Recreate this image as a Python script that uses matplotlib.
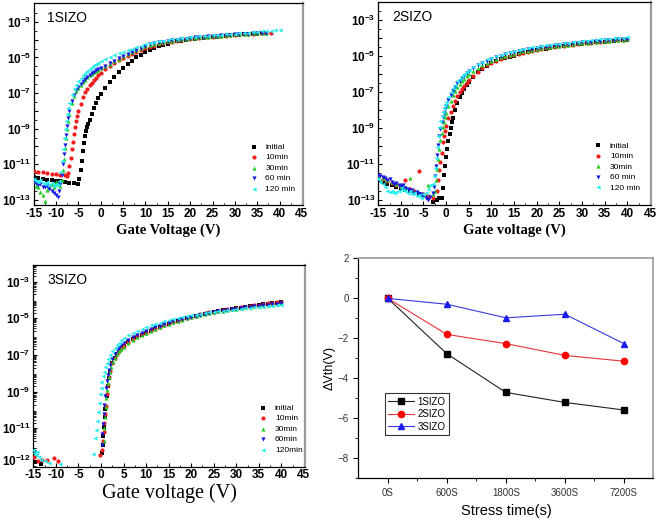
import numpy as np
import matplotlib
matplotlib.use('Agg')
import matplotlib.pyplot as plt
from matplotlib.ticker import FixedLocator, MultipleLocator, FixedFormatter, NullFormatter, LogLocator

plt.rcParams['font.family'] = ['Liberation Sans', 'DejaVu Sans']
plt.rcParams['mathtext.fontset'] = 'custom'
plt.rcParams['mathtext.rm'] = 'Liberation Sans'
plt.rcParams['mathtext.bf'] = 'Liberation Sans:bold'

# ---------------- shared ----------------
VG_ON = [1, 2, 3, 4, 5, 6, 7, 8, 9, 10, 11, 12, 13, 14, 15, 16, 17, 18, 19, 20,
         21, 22, 23, 24, 25, 26, 27, 28, 29, 30, 31, 32, 33, 34, 35, 36, 37, 38, 39, 40]
series_names = ['initial', '10min', '30min', '60 min', '120 min']
series_names_p3 = ['initial', '10min', '30min', '60min', '120min']
series_colors = ['#000000', '#ee1c1c', '#22cc22', '#1414e6', '#22eeee']
series_markers = ['s', 'o', '^', 'v', '<']

# ---------------- panel 1 : 1SIZO (log10 of drain current) ----------------
p1_initial_v = [-15, -14, -13, -12, -11, -10, -9, -8, -7, -6, -5,
                -4.75, -4.5, -4.25, -4, -3.75, -3.5, -3.25, -3, -2.75, -2.5, -2, -1.5, -1, -0.5, 0]
p1_initial_log = [-11.72, -11.78, -11.82, -11.86, -11.9, -11.93, -11.96, -12.0, -12.03, -12.05, -12.08,
                  -11.85, -11.3, -10.8, -10.25, -9.8, -9.42, -9.12, -8.9, -8.72, -8.53, -8.17, -7.85, -7.55, -7.28, -7.05]
p1_initial_on = [-6.7, -6.38, -6.1, -5.82, -5.58, -5.37, -5.18, -5.0, -4.84, -4.68, -4.56, -4.46, -4.37, -4.29,
                 -4.22, -4.16, -4.1, -4.06, -4.02, -3.98, -3.95, -3.92, -3.9, -3.87, -3.85, -3.83, -3.8, -3.78,
                 -3.76, -3.74, -3.72, -3.71, -3.69, -3.68, -3.66, -3.65, -3.63]

p1_10min_v = [-15, -14, -13, -12, -11, -10, -9, -8, -7.5,
              -7.25, -7, -6.75, -6.5, -6.25, -6, -5.75, -5.5, -5.25, -5, -4.5, -4, -3.5, -3, -2.5, -2, -1.5, -1, -0.5, 0]
p1_10min_log = [-11.38, -11.42, -11.45, -11.5, -11.53, -11.56, -11.6, -11.62, -11.65,
                -11.5, -11.1, -10.65, -10.15, -9.75, -9.28, -8.88, -8.55, -8.28, -8.02, -7.6, -7.22, -6.95, -6.75,
                -6.57, -6.42, -6.27, -6.13, -6.0, -5.88]
p1_10min_on = [-5.66, -5.46, -5.3, -5.16, -5.04, -4.92, -4.8, -4.68, -4.57, -4.47, -4.4, -4.33, -4.27, -4.21,
               -4.16, -4.11, -4.07, -4.03, -3.99, -3.96, -3.93, -3.9, -3.87, -3.85, -3.83, -3.81, -3.79, -3.77,
               -3.75, -3.73, -3.71, -3.69, -3.68, -3.66, -3.65, -3.63, -3.62, -3.6]

p1_30min_v = [-15, -14.5, -14, -13.5, -13, -12.5, -12, -11.5, -11, -10.5, -10, -9.5, -9,
              -8.75, -8.5, -8.25, -8, -7.75, -7.5, -7.25, -7, -6.5, -6, -5.5, -5, -4.5, -4, -3.5, -3, -2.5, -2,
              -1.5, -1, -0.5, 0]
p1_30min_log = [-11.95, -12.2, -12.3, -12.55, -12.75, -13.05, -12.45, -12.3, -12.1, -12.25, -12.0, -12.1, -12.2,
                -11.9, -11.3, -10.7, -10.1, -9.55, -9.0, -8.55, -8.15, -7.55, -7.15, -6.9, -6.7, -6.52, -6.37,
                -6.24, -6.12, -6.01, -5.92, -5.84, -5.76, -5.69, -5.62]
p1_30min_on = [-5.5, -5.35, -5.2, -5.06, -4.94, -4.82, -4.7, -4.58, -4.47, -4.37, -4.3, -4.24, -4.18, -4.13,
               -4.09, -4.05, -4.02, -3.99, -3.96, -3.93, -3.9, -3.87, -3.85, -3.83, -3.81, -3.79, -3.77, -3.75,
               -3.73, -3.71, -3.69, -3.68, -3.66, -3.65, -3.63, -3.62, -3.6]

p1_60min_v = [-15, -14.5, -14, -13.5, -13, -12.5, -12, -11.5, -11, -10.5, -10, -9.5, -9.25, -9,
              -8.75, -8.5, -8.25, -8, -7.75, -7.5, -7.25, -7, -6.5, -6, -5.5, -5, -4.5, -4, -3.5, -3, -2.5, -2,
              -1.5, -1, -0.5, 0]
p1_60min_log = [-11.95, -12.05, -12.15, -12.1, -12.25, -12.3, -12.2, -12.4, -12.5, -12.6, -12.75, -12.85, -12.5,
                -12.1, -11.6, -11.0, -10.45, -9.9, -9.35, -8.85, -8.4, -8.0, -7.45, -7.1, -6.85, -6.65, -6.48,
                -6.33, -6.2, -6.08, -5.97, -5.88, -5.8, -5.72, -5.65, -5.58]
p1_60min_on = [-5.46, -5.32, -5.18, -5.04, -4.92, -4.8, -4.68, -4.56, -4.45, -4.34, -4.27, -4.21, -4.16, -4.11,
               -4.07, -4.03, -4.0, -3.97, -3.94, -3.91, -3.88, -3.86, -3.84, -3.82, -3.8, -3.78, -3.76, -3.74,
               -3.72, -3.7, -3.69, -3.67, -3.66, -3.64, -3.63, -3.61, -3.6]

p1_120min_v = [-15, -14.5, -14, -13.5, -13, -12.5, -12, -11.5, -11, -10.5, -10, -9.5, -9.25,
               -9, -8.75, -8.5, -8.25, -8, -7.75, -7.5, -7.25, -7, -6.5, -6, -5.5, -5, -4.5, -4, -3.5, -3, -2.5,
               -2, -1.5, -1, -0.5, 0]
p1_120min_log = [-11.85, -11.95, -12.0, -11.9, -12.05, -12.1, -12.0, -12.15, -12.05, -12.2, -12.1, -12.15, -11.95,
                 -11.45, -10.8, -10.15, -9.55, -9.0, -8.55, -8.15, -7.82, -7.55, -7.1, -6.78, -6.53, -6.32, -6.15,
                 -6.0, -5.87, -5.75, -5.64, -5.54, -5.45, -5.37, -5.29, -5.22]
p1_120min_on = [-5.1, -4.98, -4.87, -4.77, -4.67, -4.58, -4.5, -4.42, -4.34, -4.25, -4.19, -4.14, -4.09, -4.05,
                -4.01, -3.98, -3.95, -3.92, -3.89, -3.86, -3.84, -3.82, -3.8, -3.78, -3.76, -3.74, -3.72, -3.7,
                -3.68, -3.66, -3.64, -3.62, -3.6, -3.58, -3.56, -3.54, -3.52, -3.5, -3.48, -3.47]

# ---------------- panel 2 : 2SIZO ----------------
p2_initial_v = [-15, -14, -13, -12, -11, -10, -9, -8, -7, -6, -5, -4, -3, -2, -1.5,
                -1, -0.75, -0.5, -0.25, 0, 0.25, 0.5, 0.75, 1, 1.25, 1.5, 2, 2.5, 3, 3.5, 4, 4.5, 5]
p2_initial_log = [-11.9, -12.0, -12.1, -12.2, -12.3, -12.35, -12.45, -12.5, -12.6, -12.7, -12.75, -12.85, -13.1,
                  -13.0, -12.9,
                  -12.9, -12.35, -11.6, -11.1, -10.6, -10.2, -9.75, -9.35, -9.0, -8.7, -8.45, -8.0, -7.6, -7.3,
                  -7.05, -6.82, -6.62, -6.45]
p2_initial_on = [-6.18, -5.92, -5.72, -5.55, -5.42, -5.3, -5.2, -5.12, -5.05, -4.98, -4.91, -4.85, -4.79, -4.73,
                 -4.68, -4.63, -4.59, -4.55, -4.51, -4.47, -4.44, -4.41, -4.38, -4.35, -4.32, -4.29, -4.27, -4.24,
                 -4.22, -4.2, -4.17, -4.15, -4.13, -4.11, -4.09]

p2_10min_v = [-15, -14, -13, -12, -11, -10, -9, -8, -7, -6, -5, -4, -3,
              -2, -1.75, -1.5, -1.25, -1, -0.75, -0.5, -0.25, 0, 0.5, 1, 1.5, 2, 2.5, 3, 3.5, 4, 4.5, 5]
p2_10min_log = [-11.75, -11.85, -11.95, -12.05, -12.15, -12.25, -11.9, -12.4, -12.5, -11.4, -12.7, -12.8, -12.9,
                -12.5, -11.9, -11.35, -10.9, -10.4, -9.8, -9.45, -9.15, -8.9, -8.45, -8.1, -7.78, -7.5, -7.25,
                -7.02, -6.83, -6.66, -6.5, -6.36]
p2_10min_on = [-6.1, -5.87, -5.67, -5.5, -5.37, -5.26, -5.16, -5.08, -5.01, -4.94, -4.88, -4.82, -4.76, -4.71,
               -4.66, -4.61, -4.57, -4.53, -4.49, -4.46, -4.43, -4.4, -4.37, -4.34, -4.31, -4.28, -4.26, -4.23,
               -4.21, -4.19, -4.16, -4.14, -4.12, -4.1, -4.08]

p2_30min_v = [-15, -14, -13, -12, -11, -10, -9, -8, -7, -6, -5, -4, -3,
              -2.5, -2.25, -2, -1.75, -1.5, -1.25, -1, -0.75, -0.5, -0.25, 0, 0.5, 1, 1.5, 2, 2.5, 3, 3.5, 4,
              4.5, 5]
p2_30min_log = [-11.65, -11.8, -11.9, -12.0, -12.1, -12.2, -12.3, -11.8, -12.55, -12.6, -12.75, -12.2, -12.7,
                -12.5, -11.9, -11.3, -10.75, -10.2, -9.7, -9.3, -8.95, -8.65, -8.4, -8.18, -7.8, -7.48, -7.2,
                -6.95, -6.75, -6.56, -6.4, -6.26, -6.13, -6.02]
p2_30min_on = [-5.82, -5.65, -5.5, -5.38, -5.27, -5.17, -5.08, -5.0, -4.93, -4.87, -4.81, -4.75, -4.7, -4.65,
               -4.61, -4.57, -4.53, -4.49, -4.46, -4.43, -4.4, -4.37, -4.34, -4.31, -4.29, -4.26, -4.24, -4.21,
               -4.19, -4.17, -4.15, -4.13, -4.11, -4.09, -4.07]

p2_60min_v = [-15, -14.5, -14, -13.5, -13, -12.5, -12, -11.5, -11, -10.5, -10, -9.5, -9, -8.5, -8, -7.5, -7,
              -6.5, -6, -5.5, -5, -4.5, -4, -3.5, -3,
              -2.75, -2.5, -2.25, -2, -1.75, -1.5, -1.25, -1, -0.75, -0.5, -0.25, 0, 0.5, 1, 1.5, 2, 2.5, 3,
              3.5, 4, 4.5, 5]
p2_60min_log = [-11.6, -11.7, -11.75, -11.8, -11.9, -11.85, -12.0, -12.1, -12.05, -12.2, -12.25, -12.2, -12.35,
                -12.4, -12.5, -12.45, -12.6, -12.55, -12.7, -12.65, -12.8, -12.9, -13.0, -12.85, -12.6,
                -12.3, -11.7, -11.1, -10.5, -9.95, -9.45, -9.05, -8.7, -8.42, -8.18, -7.97, -7.78, -7.45, -7.17,
                -6.93, -6.72, -6.53, -6.37, -6.22, -6.09, -5.97, -5.86]
p2_60min_on = [-5.68, -5.52, -5.39, -5.27, -5.17, -5.08, -5.0, -4.92, -4.86, -4.8, -4.74, -4.69, -4.64, -4.6,
               -4.56, -4.52, -4.48, -4.45, -4.42, -4.39, -4.36, -4.33, -4.3, -4.28, -4.25, -4.23, -4.21, -4.18,
               -4.16, -4.14, -4.12, -4.1, -4.08, -4.06, -4.04]

p2_120min_v = [-15, -14.5, -14, -13.5, -13, -12.5, -12, -11.5, -11, -10.5, -10, -9.5, -9, -8.5, -8, -7.5, -7,
               -6.5, -6, -5.5, -5, -4.5, -4, -3.5,
               -3, -2.75, -2.5, -2.25, -2, -1.75, -1.5, -1.25, -1, -0.75, -0.5, -0.25, 0, 0.5, 1, 1.5, 2, 2.5,
               3, 3.5, 4, 4.5, 5]
p2_120min_log = [-11.85, -12.0, -12.1, -12.3, -12.5, -12.55, -12.5, -12.6, -12.55, -12.5, -12.35, -12.45, -12.5,
                 -12.6, -12.5, -12.7, -12.6, -12.8, -12.75, -12.9, -12.7, -12.6, -12.4, -12.2,
                 -12.1, -11.7, -11.25, -10.7, -10.05, -9.45, -8.95, -8.6, -8.32, -8.1, -7.9, -7.72, -7.56, -7.27,
                 -7.02, -6.8, -6.6, -6.42, -6.27, -6.13, -6.0, -5.89, -5.78]
p2_120min_on = [-5.6, -5.45, -5.32, -5.2, -5.1, -5.01, -4.93, -4.86, -4.79, -4.73, -4.67, -4.62, -4.57, -4.53,
                -4.49, -4.45, -4.41, -4.38, -4.35, -4.32, -4.29, -4.26, -4.23, -4.2, -4.18, -4.15, -4.13, -4.1,
                -4.08, -4.06, -4.04, -4.02, -4.0, -3.98, -3.96]

# ---------------- panel 3 : 3SIZO ----------------
p3_initial_v = [-14.6, -13.2,
                0.25, 0.4, 0.55, 0.7, 0.85, 1.0, 1.25, 1.5, 1.75, 2, 2.5, 3, 3.5, 4, 4.5, 5]
p3_initial_log = [-12.85, -12.95,
                  -12.35, -11.9, -11.4, -10.9, -10.4, -9.95, -9.25, -8.7, -8.25, -7.92, -7.45, -7.15, -6.95,
                  -6.78, -6.64, -6.52]
p3_initial_on = [-6.3, -6.14, -6.0, -5.9, -5.8, -5.68, -5.58, -5.48, -5.39, -5.3, -5.22, -5.14, -5.06, -4.99,
                 -4.92, -4.86, -4.8, -4.74, -4.69, -4.64, -4.6, -4.57, -4.53, -4.49, -4.46, -4.42, -4.38, -4.35,
                 -4.31, -4.28, -4.24, -4.21, -4.18, -4.14, -4.11]

p3_10min_v = [-14.8, -14, -13, -12, -10.5, -9.5,
              -0.2, 0.3, 0.45, 0.6, 0.75, 0.9, 1.05, 1.3, 1.55, 1.8, 2.05, 2.5, 3, 3.5, 4, 4.5, 5]
p3_10min_log = [-12.55, -12.8, -12.7, -12.75, -12.6, -12.8,
                -12.45, -12.2, -11.7, -11.2, -10.7, -10.2, -9.8, -9.15, -8.62, -8.2, -7.88, -7.45, -7.15, -6.94,
                -6.77, -6.63, -6.51]
p3_10min_on = [-6.3, -6.13, -5.99, -5.88, -5.78, -5.66, -5.56, -5.46, -5.37, -5.28, -5.2, -5.12, -5.05, -4.98,
               -4.91, -4.85, -4.79, -4.73, -4.68, -4.63, -4.59, -4.55, -4.51, -4.48, -4.44, -4.4, -4.37, -4.33,
               -4.3, -4.26, -4.23, -4.19, -4.16, -4.12, -4.09]

p3_30min_v = [0.6, 0.75, 0.9, 1.05, 1.2, 1.4, 1.6, 1.8, 2.0, 2.3, 2.6, 3, 3.5, 4, 4.5, 5]
p3_30min_log = [-11.7, -11.0, -10.4, -9.85, -9.35, -8.9, -8.5, -8.2, -7.95, -7.65, -7.4, -7.17, -6.97, -6.8,
                -6.66, -6.54]
p3_30min_on = [-6.33, -6.16, -6.02, -5.9, -5.8, -5.69, -5.58, -5.48, -5.39, -5.3, -5.22, -5.14, -5.07, -5.0,
               -4.93, -4.87, -4.81, -4.76, -4.71, -4.66, -4.62, -4.58, -4.54, -4.51, -4.47, -4.44, -4.41, -4.38,
               -4.35, -4.32, -4.29, -4.26, -4.23, -4.2, -4.17]

p3_60min_v = [0.15, 0.3, 0.45, 0.6, 0.75, 0.9, 1.1, 1.3, 1.5, 1.75, 2, 2.5, 3, 3.5, 4, 4.5, 5]
p3_60min_log = [-11.9, -11.3, -10.75, -10.2, -9.7, -9.25, -8.8, -8.4, -8.1, -7.8, -7.55, -7.2, -6.95, -6.75,
                -6.6, -6.47, -6.36]
p3_60min_on = [-6.18, -6.03, -5.9, -5.79, -5.69, -5.59, -5.5, -5.41, -5.33, -5.25, -5.17, -5.1, -5.03, -4.97,
               -4.91, -4.85, -4.8, -4.75, -4.7, -4.66, -4.62, -4.58, -4.54, -4.51, -4.47, -4.44, -4.41, -4.38,
               -4.35, -4.32, -4.29, -4.26, -4.24, -4.21, -4.19]

p3_120min_v = [-15, -14.8, -14.5, -14.2, -13.8, -13.3, -12.5, -11.5, -9.0,
               -1.7, -1.3, -1.1, -0.9, -0.7, -0.5, -0.3, -0.1, 0.1, 0.35, 0.6, 0.9, 1.25, 1.6, 2, 2.5, 3, 3.5,
               4, 4.5, 5]
p3_120min_log = [-12.2, -12.35, -12.45, -12.3, -12.55, -12.7, -12.8, -12.9, -12.95,
                 -12.4, -11.55, -11.1, -10.6, -10.1, -9.6, -9.15, -8.78, -8.45, -8.15, -7.9, -7.65, -7.42, -7.2,
                 -7.0, -6.8, -6.6, -6.45, -6.32, -6.2, -6.1]
p3_120min_on = [-5.93, -5.79, -5.67, -5.57, -5.48, -5.39, -5.31, -5.23, -5.16, -5.1, -5.04, -4.98, -4.93, -4.88,
                -4.84, -4.8, -4.76, -4.72, -4.68, -4.65, -4.62, -4.59, -4.56, -4.53, -4.5, -4.48, -4.45, -4.43,
                -4.4, -4.38, -4.36, -4.34, -4.32, -4.3, -4.28]

# ---------------- panel 4 : threshold voltage shift ----------------
stress_labels = ['0S', '600S', '1800S', '3600S', '7200S']
dvth_1sizo = [0, -2.77, -4.7, -5.2, -5.58]
dvth_2sizo = [0, -1.8, -2.26, -2.85, -3.14]
dvth_3sizo = [0, -0.29, -0.97, -0.79, -2.26]

# ---------------- figure ----------------
fig = plt.figure(figsize=(6.6, 5.2), dpi=100)
ax1 = fig.add_axes([0.051, 0.606, 0.4085, 0.388])
ax2 = fig.add_axes([0.573, 0.606, 0.414, 0.391])
ax3 = fig.add_axes([0.0505, 0.1025, 0.412, 0.388])
ax4 = fig.add_axes([0.543, 0.080, 0.447, 0.423])


def full_curve(v, lg, on):
    after = [x for x in VG_ON if x > v[-1]][:len(on)]
    return np.array(list(v) + after, dtype=float), 10.0 ** np.array(list(lg) + list(on), dtype=float)


def draw_transfer(ax, curves, names, ylog_lim, title, xlabel, xlabel_kw, leg_anchor):
    for (v, lg, on), nm, col, mk in zip(curves, names, series_colors, series_markers):
        x, y = full_curve(v, lg, on)
        ax.scatter(x, y, s=9, marker=mk, c=col, linewidths=0, label=nm, zorder=3)
    ax.set_yscale('log')
    ax.set_xlim(-15, 45.3)
    ax.set_ylim(10 ** ylog_lim[0], 10 ** ylog_lim[1])
    ax.xaxis.set_major_locator(MultipleLocator(5))
    ax.xaxis.set_minor_locator(MultipleLocator(2.5))
    ax.tick_params(axis='both', which='both', direction='in', top=False, right=False)
    ax.tick_params(axis='both', which='major', length=3, width=0.8)
    ax.tick_params(axis='both', which='minor', length=1.8, width=0.6)
    ax.tick_params(axis='x', labelsize=8.5, pad=2)
    ax.tick_params(axis='y', labelsize=8.5, pad=2)
    ax.text(0.05, 0.925, title, transform=ax.transAxes, fontsize=10, va='center', ha='left')
    ax.set_xlabel(xlabel, **xlabel_kw)
    for s in ['left', 'bottom', 'top']:
        ax.spines[s].set_color('black')
        ax.spines[s].set_linewidth(0.9)
    ax.spines['right'].set_color('#9a9a9a')
    ax.spines['right'].set_linewidth(1.6)
    ax.legend(loc='lower left', bbox_to_anchor=leg_anchor, frameon=False, fontsize=6,
              handlelength=1.0, handletextpad=0.9, labelspacing=0.32, borderpad=0,
              borderaxespad=0, scatterpoints=1, markerscale=1.0)


def bold_x_labels(ax):
    ticks = [-15, -10, -5, 0, 5, 10, 15, 20, 25, 30, 35, 40, 45]
    ax.set_xticks(ticks)
    ax.set_xticklabels([str(t) for t in ticks], fontweight='bold', fontsize=8.5)


curves1 = [(p1_initial_v, p1_initial_log, p1_initial_on), (p1_10min_v, p1_10min_log, p1_10min_on),
           (p1_30min_v, p1_30min_log, p1_30min_on), (p1_60min_v, p1_60min_log, p1_60min_on),
           (p1_120min_v, p1_120min_log, p1_120min_on)]
curves2 = [(p2_initial_v, p2_initial_log, p2_initial_on), (p2_10min_v, p2_10min_log, p2_10min_on),
           (p2_30min_v, p2_30min_log, p2_30min_on), (p2_60min_v, p2_60min_log, p2_60min_on),
           (p2_120min_v, p2_120min_log, p2_120min_on)]
curves3 = [(p3_initial_v, p3_initial_log, p3_initial_on), (p3_10min_v, p3_10min_log, p3_10min_on),
           (p3_30min_v, p3_30min_log, p3_30min_on), (p3_60min_v, p3_60min_log, p3_60min_on),
           (p3_120min_v, p3_120min_log, p3_120min_on)]

serif_bold = dict(fontfamily='Liberation Serif', fontweight='bold', fontsize=10.5, labelpad=3)
draw_transfer(ax1, curves1, series_names, (-13.28, -1.95), '1SIZO', 'Gate Voltage (V)', serif_bold, (0.80, 0.06))
draw_transfer(ax2, curves2, series_names, (-13.28, -1.98), '2SIZO', 'Gate voltage (V)', serif_bold, (0.79, 0.065))
draw_transfer(ax3, curves3, series_names_p3, (-13.09, -2.09), '3SIZO', 'Gate voltage (V)',
              dict(fontfamily='Liberation Serif', fontsize=14.5, labelpad=1), (0.83, 0.063))

for ax in (ax1, ax2, ax3):
    bold_x_labels(ax)
    ax.set_xlim(-15, 45.3)

# y ticks for panels 1 and 2: every decade, labels on odd exponents
dec = [3, 4, 5, 6, 7, 8, 9, 10, 11, 12, 13]
for ax in (ax1, ax2):
    ax.yaxis.set_major_locator(FixedLocator([10.0 ** (-k) for k in dec]))
    ax.yaxis.set_major_formatter(FixedFormatter(
        [r'$\mathbf{10^{-%d}}$' % k if k % 2 else '' for k in dec]))
    ax.yaxis.set_minor_locator(LogLocator(base=10, subs=(3.16,), numticks=30))
    ax.yaxis.set_minor_formatter(NullFormatter())

# panel 3 y ticks
p3_tick_exp = [-3, -5, -7, -9, -11, -12.7]
p3_tick_txt = ['-3', '-5', '-7', '-9', '-11', '-12']
ax3.yaxis.set_major_locator(FixedLocator([10.0 ** e for e in p3_tick_exp]))
ax3.yaxis.set_major_formatter(FixedFormatter([r'$\mathbf{10^{%s}}$' % t for t in p3_tick_txt]))
ax3.yaxis.set_minor_locator(LogLocator(base=10, subs=(2, 3, 4, 5, 6, 7, 8, 9), numticks=30))
ax3.yaxis.set_minor_formatter(NullFormatter())

# ---------------- panel 4 ----------------
xpos = np.arange(len(stress_labels))
ax4.plot(xpos, dvth_1sizo, color='#222222', lw=0.8, marker='s', ms=4.5, mfc='black', mec='black', label='1SIZO')
ax4.plot(xpos, dvth_2sizo, color='#e8343c', lw=0.8, marker='o', ms=4.5, mfc='red', mec='red', label='2SIZO')
ax4.plot(xpos, dvth_3sizo, color='#3a3adf', lw=0.8, marker='^', ms=5, mfc='#1a1aee', mec='#1a1aee', label='3SIZO')
ax4.set_xlim(-0.5, 4.5)
ax4.set_ylim(-9, 2)
ax4.set_xticks(xpos)
ax4.set_xticklabels(stress_labels)
ax4.xaxis.set_minor_locator(FixedLocator([0.5, 1.5, 2.5, 3.5]))
ax4.yaxis.set_major_locator(MultipleLocator(2))
ax4.yaxis.set_minor_locator(MultipleLocator(1))
ax4.tick_params(axis='both', which='both', direction='out', top=False, right=False, labelsize=7,
                labelcolor='#333333')
ax4.tick_params(which='major', length=3.5, width=0.8)
ax4.tick_params(which='minor', length=2, width=0.6)
ax4.set_xlabel('Stress time(s)', fontsize=10.5, labelpad=4)
ax4.set_ylabel('ΔVth(V)', fontsize=9, labelpad=1)
for s in ['left', 'bottom']:
    ax4.spines[s].set_color('black')
    ax4.spines[s].set_linewidth(0.9)
for s in ['top', 'right']:
    ax4.spines[s].set_color('#9a9a9a')
    ax4.spines[s].set_linewidth(1.2)
leg4 = ax4.legend(loc='lower left', bbox_to_anchor=(0.09, 0.197), fontsize=7, frameon=True, fancybox=False,
                  edgecolor='black', handlelength=2.6, handletextpad=0.4, labelspacing=0.25, borderpad=0.35,
                  borderaxespad=0)
leg4.get_frame().set_linewidth(0.8)

fig.savefig('out.png', dpi=100)
